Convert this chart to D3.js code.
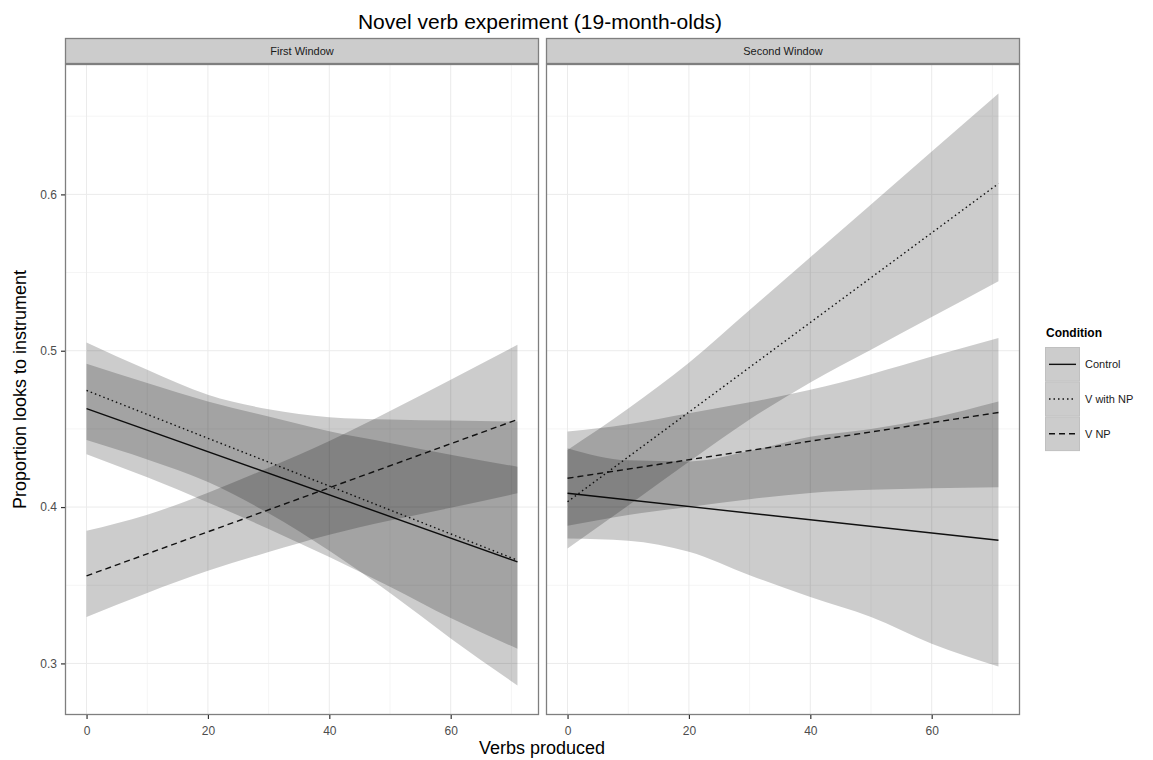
<!DOCTYPE html>
<html>
<head>
<meta charset="utf-8">
<script src="https://cdn.jsdelivr.net/npm/d3@7"></script>
<style>
body { margin: 0; background: #fff; }
svg text { font-family: "Liberation Sans", Arial, sans-serif; }
</style>
</head>
<body>
<div id="chart"></div>
<script>
const windows = ["First Window", "Second Window"];
const conditions = ["Control", "V with NP", "V NP"];
const dashes = [null, "1.5,3", "6,4"];
const xTicks = [0, 20, 40, 60];
const yTicks = [0.3, 0.4, 0.5, 0.6];
const lineX = [0, 71];
const bandX = [0, 10, 20, 30, 40, 50, 60, 71];

// First Window
const firstControlFit = [0.463, 0.365];
const firstControlHi = [0.4917, 0.4793, 0.4676, 0.4579, 0.4485, 0.4410, 0.4335, 0.4258];
const firstControlLo = [0.4338, 0.4190, 0.4030, 0.3860, 0.3680, 0.3490, 0.3290, 0.3094];
const firstVwithNPFit = [0.4746, 0.366];
const firstVwithNPHi = [0.5053, 0.4878, 0.4718, 0.4626, 0.4575, 0.4560, 0.4553, 0.4547];
const firstVwithNPLo = [0.4429, 0.4305, 0.4160, 0.3960, 0.3720, 0.3450, 0.3160, 0.2859];
const firstVNPFit = [0.356, 0.456];
const firstVNPHi = [0.3848, 0.3951, 0.4092, 0.4252, 0.4423, 0.4614, 0.4815, 0.5038];
const firstVNPLo = [0.3297, 0.3451, 0.3592, 0.3712, 0.3823, 0.3914, 0.3995, 0.4088];

// Second Window
const secondControlFit = [0.4088, 0.3788];
const secondControlHi = [0.4377, 0.4299, 0.4292, 0.4358, 0.4449, 0.4500, 0.4570, 0.4675];
const secondControlLo = [0.3799, 0.3785, 0.3714, 0.3564, 0.3425, 0.3297, 0.3126, 0.2981];
const secondVwithNPFit = [0.4034, 0.6069];
const secondVwithNPHi = [0.4365, 0.4630, 0.4923, 0.5261, 0.5598, 0.5936, 0.6274, 0.6645];
const secondVwithNPLo = [0.3735, 0.4010, 0.4290, 0.4560, 0.4797, 0.5006, 0.5215, 0.5444];
const secondVNPFit = [0.4184, 0.4605];
const secondVNPHi = [0.4483, 0.4530, 0.4600, 0.4670, 0.4750, 0.4850, 0.4963, 0.5081];
const secondVNPLo = [0.3880, 0.3950, 0.4000, 0.4050, 0.4090, 0.4110, 0.4120, 0.4126];

const panels = [
	{ name: windows[0], series: [
		{ fit: firstControlFit, hi: firstControlHi, lo: firstControlLo },
		{ fit: firstVwithNPFit, hi: firstVwithNPHi, lo: firstVwithNPLo },
		{ fit: firstVNPFit, hi: firstVNPHi, lo: firstVNPLo }
	] },
	{ name: windows[1], series: [
		{ fit: secondControlFit, hi: secondControlHi, lo: secondControlLo },
		{ fit: secondVwithNPFit, hi: secondVwithNPHi, lo: secondVwithNPLo },
		{ fit: secondVNPFit, hi: secondVNPHi, lo: secondVNPLo }
	] }
];

const width = 1153, height = 760;
const panelTop = 64, panelBottom = 715, stripH = 26;
const panelLeft = [65, 546], panelW = 474;

const svg = d3.select("#chart").append("svg")
	.attr("width", width)
	.attr("height", height);

const y = d3.scaleLinear().domain([0.267, 0.6834]).range([panelBottom, panelTop]);
const bandFill = "#000", bandAlpha = 0.2;

panels.forEach((p, i) => {
	const x = d3.scaleLinear().domain([-3.55, 74.55]).range([panelLeft[i], panelLeft[i] + panelW]);
	const g = svg.append("g");

	// background + grid
	g.append("rect")
		.attr("x", panelLeft[i]).attr("y", panelTop)
		.attr("width", panelW).attr("height", panelBottom - panelTop)
		.attr("fill", "#fff");
	[10, 30, 50, 70].forEach((v) => {
		g.append("line").attr("x1", x(v)).attr("x2", x(v))
			.attr("y1", panelTop).attr("y2", panelBottom)
			.attr("stroke", "#f5f5f5").attr("stroke-width", 1);
	});
	[0.35, 0.45, 0.55, 0.65].forEach((v) => {
		g.append("line").attr("x1", panelLeft[i]).attr("x2", panelLeft[i] + panelW)
			.attr("y1", y(v)).attr("y2", y(v))
			.attr("stroke", "#f5f5f5").attr("stroke-width", 1);
	});
	xTicks.forEach((v) => {
		g.append("line").attr("x1", x(v)).attr("x2", x(v))
			.attr("y1", panelTop).attr("y2", panelBottom)
			.attr("stroke", "#ebebeb").attr("stroke-width", 1);
	});
	yTicks.forEach((v) => {
		g.append("line").attr("x1", panelLeft[i]).attr("x2", panelLeft[i] + panelW)
			.attr("y1", y(v)).attr("y2", y(v))
			.attr("stroke", "#ebebeb").attr("stroke-width", 1);
	});

	const area = d3.area()
		.x((d) => x(d.x))
		.y0((d) => y(d.lo))
		.y1((d) => y(d.hi))
		.curve(d3.curveMonotoneX);
	const line = d3.line().x((d) => x(d.x)).y((d) => y(d.y));

	p.series.forEach((s, k) => {
		const band = bandX.map((bx, j) => ({ x: bx, hi: s.hi[j], lo: s.lo[j] }));
		g.append("path").datum(band)
			.attr("d", area)
			.attr("fill", bandFill)
			.attr("fill-opacity", bandAlpha);
		g.append("path").datum(lineX.map((lx, j) => ({ x: lx, y: s.fit[j] })))
			.attr("d", line)
			.attr("fill", "none")
			.attr("stroke", "#111")
			.attr("stroke-width", 1.4)
			.attr("stroke-dasharray", dashes[k]);
	});

	// panel border
	g.append("rect")
		.attr("x", panelLeft[i] + 0.5).attr("y", panelTop + 0.5)
		.attr("width", panelW - 1).attr("height", panelBottom - panelTop - 1)
		.attr("fill", "none").attr("stroke", "#7f7f7f").attr("stroke-width", 1.3);

	// strip
	g.append("rect")
		.attr("x", panelLeft[i] + 0.5).attr("y", panelTop - stripH + 0.5)
		.attr("width", panelW - 1).attr("height", stripH - 1)
		.attr("fill", "#cccccc").attr("stroke", "#7f7f7f").attr("stroke-width", 1.3);
	g.append("text")
		.attr("x", panelLeft[i] + panelW / 2).attr("y", panelTop - stripH / 2)
		.attr("dy", "0.35em")
		.attr("text-anchor", "middle")
		.attr("fill", "#1a1a1a")
		.style("font-size", "11px")
		.text(p.name);

	// x axis
	const xAxis = g.append("g")
		.attr("transform", `translate(0,${panelBottom})`)
		.call(d3.axisBottom(x).tickValues(xTicks).tickSize(4).tickPadding(7));
	xAxis.select(".domain").remove();
	xAxis.selectAll("line").attr("stroke", "#333").attr("stroke-width", 1.2);
	xAxis.selectAll("text").attr("fill", "#4d4d4d")
		.style("font-size", "12px").style("font-family", "Liberation Sans, Arial, sans-serif");

	if (i === 0) {
		const yAxis = g.append("g")
			.attr("transform", `translate(${panelLeft[0]},0)`)
			.call(d3.axisLeft(y).tickValues(yTicks).tickFormat(d3.format(".1f")).tickSize(4).tickPadding(4));
		yAxis.select(".domain").remove();
		yAxis.selectAll("line").attr("stroke", "#333").attr("stroke-width", 1.2);
		yAxis.selectAll("text").attr("fill", "#4d4d4d")
			.style("font-size", "12px").style("font-family", "Liberation Sans, Arial, sans-serif");
	}
});

// titles
svg.append("text")
	.attr("x", 540).attr("y", 29)
	.attr("text-anchor", "middle")
	.attr("fill", "#000")
	.style("font-size", "21px")
	.text("Novel verb experiment (19-month-olds)");

svg.append("text")
	.attr("x", 542).attr("y", 754)
	.attr("text-anchor", "middle")
	.attr("fill", "#000")
	.style("font-size", "18px")
	.text("Verbs produced");

svg.append("text")
	.attr("transform", `translate(26,${(panelTop + panelBottom) / 2}) rotate(-90)`)
	.attr("text-anchor", "middle")
	.attr("fill", "#000")
	.style("font-size", "18px")
	.text("Proportion looks to instrument");

// legend
const legend = svg.append("g").attr("transform", "translate(1045,322)");
legend.append("text")
	.attr("x", 1).attr("y", 15)
	.attr("fill", "#000")
	.style("font-size", "12px")
	.style("font-weight", "bold")
	.text("Condition");
const keyH = 34.7, keyW = 35;
conditions.forEach((c, k) => {
	const ky = 25 + k * keyH;
	legend.append("rect")
		.attr("x", 0.5).attr("y", ky + 0.5)
		.attr("width", keyW - 1).attr("height", keyH - 1)
		.attr("fill", bandFill).attr("fill-opacity", bandAlpha)
		.attr("stroke", "#c0c0c0").attr("stroke-width", 1);
	legend.append("line")
		.attr("x1", 4).attr("x2", keyW - 4)
		.attr("y1", ky + keyH / 2).attr("y2", ky + keyH / 2)
		.attr("stroke", "#111").attr("stroke-width", 1.4)
		.attr("stroke-dasharray", dashes[k]);
	legend.append("text")
		.attr("x", keyW + 5).attr("y", ky + keyH / 2)
		.attr("dy", "0.35em")
		.attr("fill", "#1a1a1a")
		.style("font-size", "11px")
		.text(c);
});
</script>
</body>
</html>
